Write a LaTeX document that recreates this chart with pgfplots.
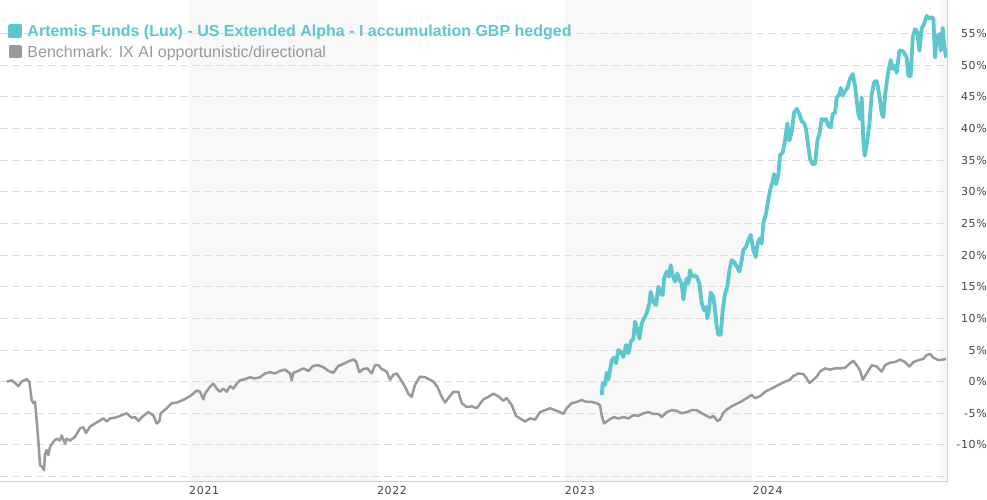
\documentclass[border=0pt]{standalone}
\usepackage{fontspec}
\setmainfont{Liberation Sans}
\newfontfamily\tickfont[LetterSpace=6]{DejaVu Sans}
\usepackage{pgfplots}
\usepackage{pgfplotstable}
\pgfplotsset{compat=1.18}
\definecolor{fundcol}{RGB}{92,199,206}
\definecolor{benchcol}{RGB}{153,153,153}
\definecolor{bandcol}{RGB}{248,248,248}
\definecolor{gridcol}{RGB}{221,221,221}
\definecolor{axcol}{RGB}{208,208,208}
\definecolor{labcol}{RGB}{68,68,68}

\pgfplotstableread{
x y
2020.029 0
2020.056 0.2
2020.0735 -0.2
2020.0912 -0.7
2020.109 0
2020.1356 0.4
2020.1498 0
2020.1622 -2.9
2020.1711 -3.4
2020.18 -3.2
2020.1889 -6.1
2020.1977 -9.3
2020.2066 -13.2
2020.2208 -13.5
2020.2279 -14.0
2020.2332 -11.4
2020.2421 -10.8
2020.251 -11.6
2020.2599 -10.3
2020.2776 -9.5
2020.2954 -9.0
2020.3131 -9.3
2020.322 -8.5
2020.3397 -9.8
2020.3486 -9.0
2020.3663 -9.3
2020.393 -8.7
2020.4196 -7.4
2020.4373 -7.2
2020.4515 -8.1
2020.4728 -7.1
2020.4995 -6.6
2020.5172 -6.3
2020.5438 -5.8
2020.5616 -6.3
2020.5793 -5.8
2020.606 -5.7
2020.6326 -5.4
2020.6681 -5.0
2020.6947 -5.7
2020.7125 -5.6
2020.7302 -6.2
2020.7568 -5.4
2020.7834 -4.8
2020.8101 -5.3
2020.8278 -6.6
2020.842 -6.3
2020.8491 -5.0
2020.8811 -4.2
2020.9077 -3.4
2020.9343 -3.3
2020.961 -3.0
2020.9876 -2.6
2021.0142 -2.1
2021.0408 -1.4
2021.0586 -1.6
2021.0763 -2.8
2021.0852 -1.9
2021.1118 -0.8
2021.1296 -0.3
2021.1473 -1.1
2021.165 -1.6
2021.1828 -1.1
2021.2006 -1.6
2021.2183 -0.7
2021.236 -1.1
2021.2573 -0.2
2021.2715 0.2
2021.2982 0.4
2021.3248 0.7
2021.3514 0.5
2021.3781 0.7
2021.4047 1.3
2021.4313 1.5
2021.458 1.3
2021.4846 1.7
2021.5112 1.9
2021.5378 1.3
2021.5467 0.2
2021.5555 1.4
2021.5822 1.7
2021.6088 2.1
2021.6354 1.7
2021.662 2.5
2021.6887 2.6
2021.7153 2.3
2021.7419 1.7
2021.7685 1.4
2021.7952 2.5
2021.8218 2.8
2021.8484 3.2
2021.875 3.5
2021.8892 3.2
2021.907 1.5
2021.9283 2.0
2021.9496 2.1
2021.9727 1.3
2021.9904 2.6
2022.0082 2.6
2022.0259 2.0
2022.0525 1.6
2022.0703 0.3
2022.088 1.1
2022.1058 1.3
2022.1235 0.5
2022.1502 -0.8
2022.1679 -1.9
2022.1857 -2.4
2022.2034 -0.5
2022.23 0.8
2022.2567 0.7
2022.2833 0.3
2022.301 0
2022.3223 -0.8
2022.3454 -2.4
2022.3632 -3.3
2022.3809 -2.6
2022.4075 -1.6
2022.4342 -1.6
2022.4519 -3.4
2022.4785 -4.0
2022.5052 -3.9
2022.5318 -4.2
2022.5495 -3.5
2022.5673 -2.8
2022.5939 -2.4
2022.6205 -1.9
2022.6471 -2.3
2022.6737 -3.0
2022.6915 -2.6
2022.7182 -3.7
2022.7412 -5.4
2022.7625 -5.8
2022.7891 -6.3
2022.8158 -5.8
2022.8424 -6.0
2022.869 -4.8
2022.8956 -4.5
2022.9223 -4.2
2022.9489 -4.5
2022.9755 -4.8
2022.9933 -5.1
2023.011 -4.2
2023.0376 -3.4
2023.0643 -3.2
2023.0909 -2.9
2023.1175 -3.2
2023.1441 -3.2
2023.1708 -3.4
2023.1885 -3.7
2023.1974 -5.3
2023.2098 -6.6
2023.2329 -6.1
2023.2595 -5.6
2023.2861 -5.8
2023.3127 -5.6
2023.3394 -5.8
2023.366 -5.3
2023.3926 -5.4
2023.4192 -5.0
2023.4459 -4.8
2023.4725 -5.1
2023.4991 -5.1
2023.5169 -5.6
2023.5435 -4.8
2023.5701 -4.5
2023.5967 -4.6
2023.6234 -5.0
2023.65 -4.8
2023.6766 -4.5
2023.7032 -4.5
2023.7299 -5.0
2023.7565 -5.4
2023.7742 -5.7
2023.792 -5.4
2023.8133 -6.2
2023.8275 -6.0
2023.8452 -4.9
2023.863 -4.4
2023.8896 -3.9
2023.9163 -3.5
2023.9429 -3.1
2023.9695 -2.6
2023.9961 -2.1
2024.0139 -2.6
2024.0405 -2.3
2024.0671 -1.6
2024.0937 -1.2
2024.1204 -0.8
2024.147 -0.4
2024.1736 0
2024.2002 0.3
2024.218 0.9
2024.2446 1.3
2024.2712 1.2
2024.289 0.5
2024.3032 -0.2
2024.3245 0.3
2024.3422 0.8
2024.3599 1.6
2024.3866 2.1
2024.4132 1.9
2024.4398 2.1
2024.4665 2.1
2024.4931 2.2
2024.5197 2.9
2024.5375 3.3
2024.5552 2.6
2024.573 1.8
2024.5872 0.3
2024.6085 1.3
2024.6351 2.6
2024.6617 2.4
2024.6883 1.6
2024.7061 2.6
2024.7327 3.0
2024.7593 3.1
2024.786 3.5
2024.8126 3.1
2024.8357 2.4
2024.857 3.1
2024.8836 3.4
2024.9102 3.6
2024.928 4.2
2024.9457 4.4
2024.9635 3.8
2024.9901 3.4
2025.0167 3.5
2025.0309 3.6
}\benchdata

\pgfplotstableread{
x y
2023.1974 -2.1
2023.2027 -0.3
2023.2151 -0.5
2023.224 1.4
2023.2329 0.3
2023.2418 1.8
2023.2506 3.4
2023.263 3.8
2023.2737 2.9
2023.2861 5.0
2023.2985 4.7
2023.3127 3.9
2023.3269 5.8
2023.3394 4.5
2023.3518 6.3
2023.366 6.8
2023.3749 9.5
2023.3873 8.2
2023.398 6.8
2023.4104 9.2
2023.4228 10.0
2023.437 10.8
2023.4512 12.4
2023.4583 14.2
2023.4725 12.6
2023.4867 12.1
2023.4991 15.0
2023.5115 13.9
2023.5222 13.7
2023.5293 16.3
2023.5435 17.4
2023.5559 16.6
2023.5648 18.4
2023.5754 16.8
2023.5879 15.8
2023.6003 17.1
2023.611 16.1
2023.6234 15.5
2023.6323 13.0
2023.6411 15.0
2023.65 16.3
2023.6589 15.5
2023.6677 17.6
2023.6766 16.6
2023.689 16.8
2023.7032 16.6
2023.7174 15.5
2023.7299 12.4
2023.7423 11.3
2023.7529 11.8
2023.76 10.0
2023.7707 11.8
2023.7778 14.1
2023.792 13.4
2023.8009 11.3
2023.8098 8.7
2023.8186 7.4
2023.831 7.4
2023.8417 11.3
2023.8541 13.9
2023.8665 15.0
2023.8772 17.6
2023.8896 19.2
2023.902 18.9
2023.9163 18.2
2023.9305 17.4
2023.9429 19.2
2023.9518 20.8
2023.966 21.3
2023.9784 22.4
2023.9908 23.2
2024.005 20.8
2024.0174 19.7
2024.0263 21.6
2024.037 22.6
2024.0494 21.8
2024.0583 25.0
2024.0725 26.6
2024.0849 28.8
2024.0937 30.2
2024.108 31.7
2024.115 32.8
2024.1257 31.2
2024.1381 32.8
2024.147 35.8
2024.1612 36.2
2024.1736 38.1
2024.186 40.8
2024.1967 38.1
2024.2091 39.4
2024.2215 42.5
2024.2357 43.1
2024.2499 42.3
2024.2624 41.1
2024.2748 40.9
2024.2854 39.9
2024.2979 37.0
2024.3067 35.2
2024.3192 34.4
2024.3333 34.4
2024.3458 38.1
2024.3564 39.1
2024.3688 41.5
2024.3813 41.3
2024.3919 41.5
2024.4043 40.4
2024.4167 40.2
2024.4274 42.3
2024.4398 42.5
2024.4487 44.9
2024.4629 45.4
2024.47 46.4
2024.4807 45.2
2024.4931 45.9
2024.5055 46.4
2024.5197 47.9
2024.5339 48.6
2024.5463 46.7
2024.5552 44.4
2024.5641 42.3
2024.573 41.5
2024.5818 44.9
2024.5907 38.1
2024.5978 35.7
2024.6085 37.5
2024.6227 40.7
2024.6351 45.4
2024.6475 47.3
2024.6617 47.5
2024.6706 46.2
2024.6794 44.4
2024.6883 42.3
2024.6972 41.8
2024.7061 45.2
2024.715 47.3
2024.7238 49.1
2024.7363 50.8
2024.7469 49.4
2024.7593 49.9
2024.7682 48.8
2024.7824 52.3
2024.7948 52.3
2024.8072 52.0
2024.8214 51.2
2024.8303 48.3
2024.8428 48.3
2024.8534 54.4
2024.8658 55.7
2024.8782 55.2
2024.8889 52.3
2024.9013 55.8
2024.9137 56.5
2024.9279 57.8
2024.9421 57.3
2024.9546 57.6
2024.9635 57.3
2024.9723 51.2
2024.9812 54.4
2024.9954 54.9
2025.0025 52.3
2025.0131 55.9
2025.0202 53.3
2025.0309 51.2
}\funddata

\begin{document}
\begin{tikzpicture}
\begin{axis}[
  set layers,
  at={(0,0)}, anchor=south west,
  scale only axis, width=947pt, height=482pt,
  xmin=2019.9936, xmax=2025.036, ymin=-15.85, ymax=60.3,
  axis x line*=bottom, axis y line*=right,
  axis line style={draw=axcol, line width=1pt},
  xtick={2021,2022,2023,2024}, xticklabels={2021,2022,2023,2024},
  ytick={-10,-5,...,55},
  yticklabels={-10\%,-5\%,0\%,5\%,10\%,15\%,20\%,25\%,30\%,35\%,40\%,45\%,50\%,55\%},
  extra y ticks={-15}, extra y tick labels={},
  extra y tick style={grid=major},
  major tick length=0pt,
  ymajorgrids,
  grid style={draw=gridcol, line width=1pt, dash pattern=on 8pt off 4pt},
  tick label style={font=\tickfont\fontsize{11}{13}\selectfont, text=labcol, inner sep=0pt},
  xticklabel style={anchor=north west, yshift=-3.7pt},
  yticklabel style={anchor=east, xshift=40pt},
  legend style={at={(0,1)}, anchor=north west, xshift=8pt, yshift=-24pt,
    draw=none, fill=none, inner sep=0pt, row sep=6.9pt,
    nodes={inner sep=0pt, anchor=base west},
    font=\fontsize{16}{18}\selectfont,
    /tikz/every odd column/.append style={column sep=5pt}},
  legend cell align=left,
  legend image code/.code={\fill[#1] (0pt,0pt) rectangle (10.5pt,10.5pt);},
]
\begin{pgfonlayer}{axis background}
  \fill[bandcol] (axis cs:2021,-15.85) rectangle (axis cs:2022,60.3);
  \fill[bandcol] (axis cs:2023,-15.85) rectangle (axis cs:2024,60.3);
  \fill[bandcol] (axis cs:2025,-15.85) rectangle (axis cs:2025.036,60.3);
\end{pgfonlayer}
\addplot[color=fundcol, line width=3.8pt, line join=round] table[x=x,y=y] {\funddata};
\addlegendentry{\textcolor{fundcol}{\bfseries Artemis Funds (Lux) - US Extended Alpha - I accumulation GBP hedged}}
\addplot[color=benchcol, line width=2.5pt, line join=round] table[x=x,y=y] {\benchdata};
\addlegendentry{\textcolor{benchcol}{Benchmark: IX AI opportunistic/directional}}
\end{axis}
\pgfresetboundingbox
\useasboundingbox (0,-18pt) rectangle (987pt,482pt);
\end{tikzpicture}
\end{document}
